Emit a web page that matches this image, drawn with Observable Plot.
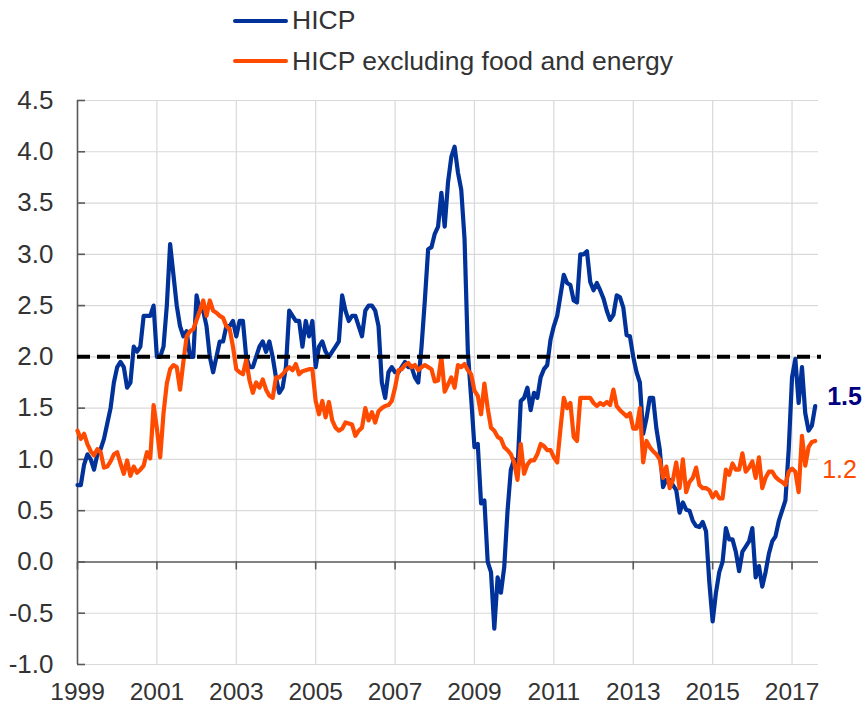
<!DOCTYPE html>
<html><head><meta charset="utf-8">
<script src="https://cdn.jsdelivr.net/npm/d3@7"></script>
<script src="https://cdn.jsdelivr.net/npm/@observablehq/plot@0.6"></script>
<style>
body{margin:0;background:#fff;font-family:"Liberation Sans",Arial,sans-serif;}
#legend{position:relative;width:867px;height:80px;}
.item{position:absolute;left:233px;height:30px;display:flex;align-items:center;font-size:26.5px;color:#333;white-space:nowrap;}
.sw{width:55px;height:4px;border-radius:2px;margin-right:4px;}
#chart svg{display:block;}
</style></head><body>
<div id="legend"></div><div id="chart"></div>
<script>
const seriesNames = ["HICP", "HICP excluding food and energy"];
const seriesColors = ["#003299", "#FF4B00"];
const startYear = 1999;
// monthly annual rates, Jan 1999 - Aug 2017
const hicp = [
 0.75,0.75,0.95,1.05,1.0,0.9,1.05,1.1,1.2,1.35,1.5,1.75,
 1.9,1.95,1.9,1.7,1.75,2.1,2.05,2.1,2.4,2.4,2.4,2.5,
 2.0,2.0,2.1,2.5,3.1,2.8,2.5,2.3,2.2,2.25,2.0,2.0,
 2.6,2.45,2.45,2.3,2.0,1.85,2.0,2.15,2.15,2.3,2.3,2.35,
 2.2,2.35,2.35,2.0,1.9,1.9,2.0,2.1,2.15,2.05,2.15,2.0,
 1.8,1.65,1.7,1.9,2.45,2.4,2.35,2.35,2.1,2.35,2.2,2.35,
 1.9,2.1,2.15,2.05,2.0,2.05,2.1,2.15,2.6,2.45,2.35,2.4,
 2.4,2.3,2.2,2.45,2.5,2.5,2.45,2.3,1.75,1.6,1.85,1.9,
 1.85,1.85,1.9,1.95,1.9,1.9,1.8,1.75,2.1,2.55,3.05,3.07,
 3.2,3.27,3.6,3.27,3.7,3.95,4.05,3.8,3.63,3.15,2.05,1.6,
 1.12,1.15,0.57,0.6,0.0,-0.1,-0.65,-0.15,-0.3,-0.05,0.5,0.9,
 1.0,0.9,1.57,1.6,1.7,1.48,1.65,1.6,1.8,1.88,1.92,2.17,
 2.3,2.4,2.6,2.8,2.72,2.7,2.55,2.53,3.0,3.0,3.03,2.73,
 2.65,2.72,2.65,2.57,2.45,2.36,2.41,2.6,2.58,2.48,2.21,2.2,
 2.0,1.85,1.75,1.25,1.4,1.6,1.6,1.3,1.1,0.73,0.8,0.8,
 0.75,0.7,0.48,0.58,0.51,0.5,0.4,0.35,0.34,0.39,0.3,-0.2,
 -0.58,-0.3,-0.1,0.0,0.33,0.22,0.22,0.1,-0.09,0.1,0.15,0.2,
 0.33,-0.15,-0.04,-0.24,-0.1,0.08,0.2,0.25,0.4,0.5,0.6,1.1,
 1.8,1.98,1.55,1.9,1.45,1.28,1.33,1.52
];
const core = [
 1.28,1.2,1.25,1.15,1.08,1.04,1.1,1.07,0.92,0.93,0.98,1.05,
 1.07,0.96,0.86,0.99,0.84,0.93,0.87,0.9,0.94,1.07,1.01,1.53,
 1.3,1.02,1.45,1.74,1.88,1.92,1.9,1.68,1.95,2.2,2.25,2.27,
 2.36,2.45,2.55,2.4,2.55,2.45,2.43,2.4,2.38,2.3,2.27,2.1,
 1.88,1.85,1.83,1.97,1.77,1.65,1.75,1.7,1.78,1.68,1.62,1.6,
 1.8,1.8,1.83,1.87,1.9,1.87,1.93,1.83,1.86,1.87,1.88,1.88,
 1.57,1.44,1.57,1.41,1.56,1.38,1.31,1.28,1.3,1.36,1.35,1.34,
 1.23,1.28,1.31,1.5,1.38,1.46,1.36,1.47,1.5,1.52,1.53,1.57,
 1.7,1.87,1.88,1.92,1.94,1.9,1.92,1.87,1.9,1.92,1.9,1.88,
 1.76,1.77,2.0,1.66,1.73,1.8,1.7,1.92,1.9,1.93,1.87,1.83,
 1.67,1.62,1.44,1.74,1.5,1.31,1.28,1.22,1.2,1.12,1.09,1.05,
 0.97,0.8,1.15,0.86,0.95,0.99,0.99,1.05,1.15,1.13,1.09,1.09,
 1.02,0.97,1.3,1.6,1.5,1.55,1.22,1.18,1.6,1.6,1.6,1.6,
 1.55,1.52,1.55,1.53,1.56,1.53,1.68,1.52,1.48,1.45,1.42,1.45,
 1.3,1.3,1.5,0.97,1.18,1.12,1.08,1.05,1.0,0.82,0.93,0.72,
 0.8,0.97,0.72,1.0,0.68,0.78,0.82,0.92,0.75,0.72,0.72,0.7,
 0.63,0.68,0.62,0.62,0.9,0.85,0.96,0.9,0.9,1.06,0.88,0.92,
 0.98,0.82,1.02,0.72,0.82,0.88,0.88,0.83,0.8,0.78,0.75,0.88,
 0.91,0.88,0.68,1.23,0.94,1.12,1.17,1.18
];
const yTicks = [-1.0,-0.5,0.0,0.5,1.0,1.5,2.0,2.5,3.0,3.5,4.0,4.5];
const xTicks = [1999,2001,2003,2005,2007,2009,2011,2013,2015,2017];
const targetLine = [2.0];
const endLabels = ["1.5", "1.2"];
const endColors = ["#000080", "#FF4B00"];

// legend
const legend = document.getElementById("legend");
seriesNames.forEach((name, i) => {
  const it = document.createElement("div");
  it.className = "item";
  it.style.top = (i === 0 ? 5.5 : 46) + "px";
  const sw = document.createElement("span");
  sw.className = "sw"; sw.style.background = seriesColors[i];
  it.appendChild(sw);
  it.appendChild(document.createTextNode(name));
  legend.appendChild(it);
});

const toRows = arr => arr.map((v, i) => ({t: startYear + i / 12, v}));
const hRows = toRows(hicp), cRows = toRows(core);
const xEnd = startYear + 224 / 12;
const plotW = 867 - 77 - 49;
const grid = "#d9d9d9", axisC = "#595959";

const chart = Plot.plot({
  width: 867, height: 628,
  marginLeft: 77, marginRight: 49, marginTop: 20, marginBottom: 44,
  style: {fontFamily: "'Liberation Sans', Arial, sans-serif", fontSize: "26px", color: "#333", background: "white"},
  x: {domain: [startYear, xEnd]},
  y: {domain: [-1, 4.5]},
  marks: [
    Plot.ruleY(yTicks.filter(d => d !== 0), {stroke: grid, strokeWidth: 1.2}),
    Plot.ruleX(xTicks.slice(1), {stroke: grid, strokeWidth: 1.2}),
    Plot.ruleY([0], {stroke: axisC, strokeWidth: 1.6}),
    Plot.ruleX([startYear], {stroke: axisC, strokeWidth: 1.6}),
    Plot.tickY(yTicks, {y: d => d, stroke: axisC, strokeWidth: 1.6, insetRight: plotW - 8}),
    Plot.ruleX(xTicks, {x: d => d, y1: 0, y2: 0, insetBottom: -8, stroke: axisC, strokeWidth: 1.6}),
    Plot.axisY(yTicks, {tickSize: 0, tickPadding: 24, tickFormat: d => d.toFixed(1), label: null}),
    Plot.axisX(xTicks, {tickSize: 0, tickPadding: 18, fontSize: 24.5, tickFormat: d => String(d), label: null}),
    Plot.line(hRows, {x: "t", y: "v", stroke: seriesColors[0], strokeWidth: 4.2, strokeLinejoin: "round", strokeLinecap: "round"}),
    Plot.line(cRows, {x: "t", y: "v", stroke: seriesColors[1], strokeWidth: 4.2, strokeLinejoin: "round", strokeLinecap: "round"}),
    Plot.ruleY(targetLine, {stroke: "black", strokeWidth: 4, strokeDasharray: "13,7", insetRight: -3}),
    Plot.text([hRows[hRows.length - 1]], {x: "t", y: "v", text: () => endLabels[0], dx: 12, dy: -9, textAnchor: "start", fill: endColors[0], fontWeight: "bold", fontSize: 25}),
    Plot.text([cRows[cRows.length - 1]], {x: "t", y: "v", text: () => endLabels[1], dx: 7, dy: 29, textAnchor: "start", fill: endColors[1], fontSize: 25})
  ]
});
document.getElementById("chart").appendChild(chart);
</script>
</body></html>
